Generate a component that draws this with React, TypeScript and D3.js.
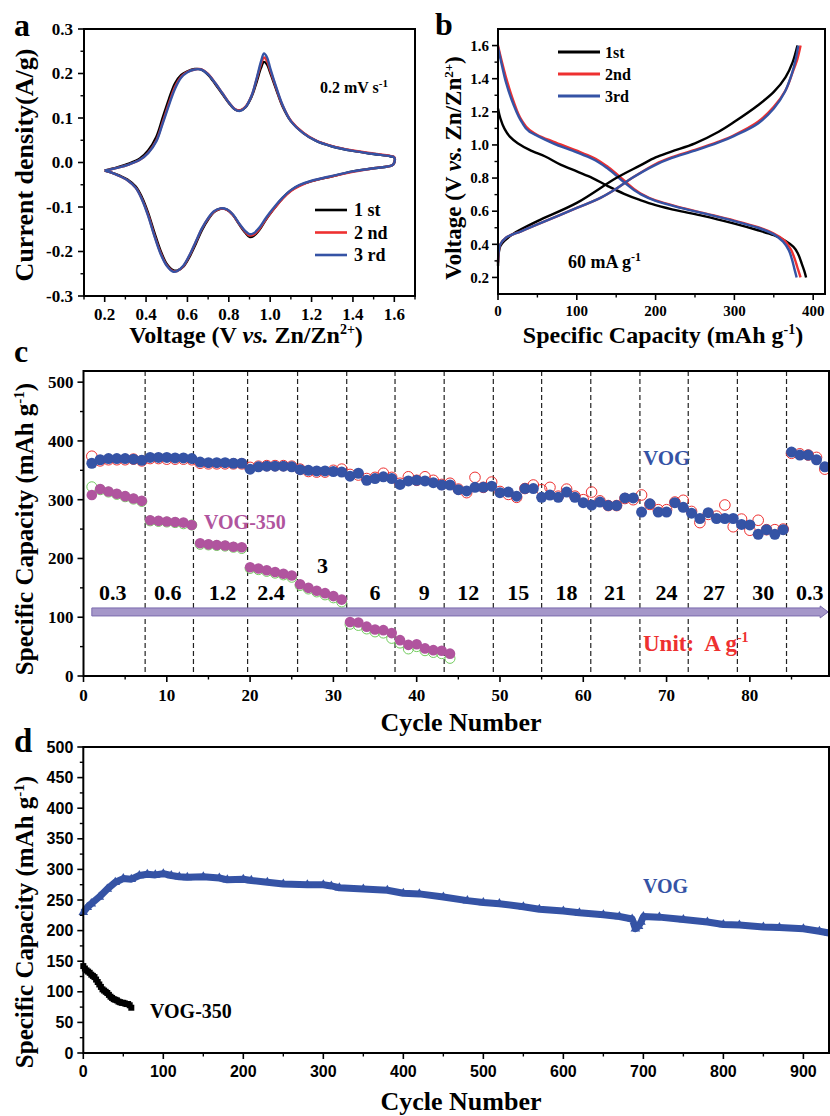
import React from 'react';
import * as d3 from 'd3';

const SERIF = '"Liberation Serif", "Times New Roman", Times, serif';
const SANS = '"Liberation Sans", Arial, Helvetica, sans-serif';
const BLUE = '#3553a5';
const RED = '#ee3030';
const MAGENTA = '#b0549e';
const GREEN = '#72cc5e';

// ---------- Panel a: CV curves (V, A/g) ----------
const cvLabels = ['1 st', '2 nd', '3 rd'];
const cvColors = ['#000000', RED, BLUE];
const cv1st: [number, number][] = [
  [0.2, -0.018], [0.26, -0.011], [0.32, -0.002], [0.37, 0.009], [0.41, 0.027], [0.45, 0.058], [0.48, 0.1],
  [0.51, 0.142], [0.54, 0.178], [0.57, 0.197], [0.6, 0.205], [0.635, 0.21], [0.665, 0.209], [0.7, 0.197],
  [0.735, 0.176], [0.77, 0.153], [0.8, 0.134], [0.83, 0.119], [0.855, 0.117], [0.88, 0.124], [0.91, 0.148],
  [0.935, 0.182], [0.955, 0.212], [0.97, 0.226], [0.985, 0.22], [1.0, 0.202], [1.03, 0.163], [1.06, 0.126],
  [1.1, 0.093], [1.16, 0.066], [1.22, 0.049], [1.3, 0.036], [1.4, 0.026], [1.5, 0.019], [1.58, 0.014], [1.6, 0.011],
  [1.6, 0.0], [1.59, -0.006], [1.5, -0.013], [1.4, -0.02], [1.3, -0.031], [1.2, -0.042], [1.14, -0.052],
  [1.1, -0.063], [1.06, -0.08], [1.02, -0.103], [0.98, -0.128], [0.95, -0.15], [0.92, -0.165], [0.9, -0.167],
  [0.88, -0.158], [0.85, -0.139], [0.82, -0.118], [0.79, -0.106], [0.76, -0.104], [0.73, -0.111], [0.7, -0.128],
  [0.67, -0.152], [0.64, -0.183], [0.61, -0.212], [0.58, -0.234], [0.55, -0.243], [0.53, -0.242], [0.5, -0.228],
  [0.47, -0.198], [0.44, -0.157], [0.41, -0.113], [0.38, -0.078], [0.35, -0.054], [0.31, -0.038], [0.27, -0.029],
  [0.23, -0.022], [0.2, -0.018],
];
const cv2nd: [number, number][] = [
  [0.2, -0.018], [0.26, -0.012], [0.32, -0.004], [0.37, 0.006], [0.41, 0.022], [0.45, 0.05], [0.48, 0.09],
  [0.51, 0.132], [0.54, 0.17], [0.57, 0.193], [0.6, 0.204], [0.635, 0.209], [0.665, 0.21], [0.7, 0.199],
  [0.735, 0.178], [0.77, 0.155], [0.8, 0.135], [0.83, 0.12], [0.855, 0.117], [0.88, 0.125], [0.91, 0.15],
  [0.935, 0.188], [0.955, 0.22], [0.97, 0.236], [0.985, 0.228], [1.0, 0.207], [1.03, 0.166], [1.06, 0.128],
  [1.1, 0.094], [1.16, 0.067], [1.22, 0.05], [1.3, 0.037], [1.4, 0.027], [1.5, 0.02], [1.58, 0.015], [1.6, 0.012],
  [1.6, 0.0], [1.59, -0.006], [1.5, -0.013], [1.4, -0.021], [1.3, -0.031], [1.2, -0.042], [1.14, -0.053],
  [1.1, -0.064], [1.06, -0.081], [1.02, -0.103], [0.98, -0.127], [0.95, -0.148], [0.92, -0.162], [0.9, -0.164],
  [0.88, -0.156], [0.85, -0.138], [0.82, -0.118], [0.79, -0.106], [0.76, -0.104], [0.73, -0.11], [0.7, -0.126],
  [0.67, -0.149], [0.64, -0.179], [0.61, -0.209], [0.58, -0.233], [0.55, -0.244], [0.53, -0.244], [0.5, -0.231],
  [0.47, -0.203], [0.44, -0.163], [0.41, -0.118], [0.38, -0.082], [0.35, -0.057], [0.31, -0.04], [0.27, -0.03],
  [0.23, -0.022], [0.2, -0.018],
];
const cv3rd: [number, number][] = [
  [0.2, -0.018], [0.26, -0.012], [0.32, -0.004], [0.37, 0.006], [0.41, 0.021], [0.45, 0.048], [0.48, 0.087],
  [0.51, 0.128], [0.54, 0.166], [0.57, 0.191], [0.6, 0.203], [0.635, 0.209], [0.665, 0.209], [0.7, 0.198],
  [0.735, 0.178], [0.77, 0.155], [0.8, 0.135], [0.83, 0.119], [0.855, 0.116], [0.88, 0.124], [0.91, 0.15],
  [0.935, 0.19], [0.955, 0.226], [0.97, 0.245], [0.985, 0.236], [1.0, 0.212], [1.03, 0.168], [1.06, 0.129],
  [1.1, 0.093], [1.16, 0.066], [1.22, 0.049], [1.3, 0.036], [1.4, 0.026], [1.5, 0.019], [1.58, 0.014], [1.6, 0.011],
  [1.6, 0.0], [1.59, -0.006], [1.5, -0.013], [1.4, -0.02], [1.3, -0.03], [1.2, -0.041], [1.14, -0.051],
  [1.1, -0.062], [1.06, -0.079], [1.02, -0.1], [0.98, -0.124], [0.95, -0.145], [0.92, -0.159], [0.9, -0.161],
  [0.88, -0.154], [0.85, -0.137], [0.82, -0.117], [0.79, -0.105], [0.76, -0.103], [0.73, -0.109], [0.7, -0.125],
  [0.67, -0.148], [0.64, -0.178], [0.61, -0.208], [0.58, -0.232], [0.55, -0.244], [0.53, -0.245], [0.5, -0.232],
  [0.47, -0.205], [0.44, -0.165], [0.41, -0.12], [0.38, -0.083], [0.35, -0.057], [0.31, -0.04], [0.27, -0.03],
  [0.23, -0.022], [0.2, -0.018],
];
const aXTicks = [0.2, 0.4, 0.6, 0.8, 1.0, 1.2, 1.4, 1.6];
const aXMinor = [0.1, 0.3, 0.5, 0.7, 0.9, 1.1, 1.3, 1.5, 1.7];
const aYTicks = [-0.3, -0.2, -0.1, 0.0, 0.1, 0.2, 0.3];
const aYMinor = [-0.25, -0.15, -0.05, 0.05, 0.15, 0.25];

// ---------- Panel b: GCD curves (mAh/g, V) ----------
const gcdLabels = ['1st', '2nd', '3rd'];
const gcdColors = ['#000000', RED, BLUE];
const dis1st: [number, number][] = [
  [0, 1.22], [3, 1.16], [8, 1.1], [15, 1.05], [25, 1.01], [40, 0.97], [60, 0.93], [80, 0.88], [100, 0.84],
  [120, 0.8], [140, 0.75], [160, 0.705], [180, 0.668], [200, 0.637], [230, 0.602], [260, 0.572], [300, 0.525],
  [330, 0.485], [350, 0.455], [365, 0.42], [375, 0.385], [381, 0.34], [385, 0.29], [389, 0.235], [391, 0.2],
];
const dis2nd: [number, number][] = [
  [0, 1.6], [5, 1.5], [10, 1.41], [20, 1.26], [30, 1.15], [40, 1.09], [50, 1.06], [70, 1.02], [100, 0.965],
  [120, 0.925], [140, 0.865], [160, 0.785], [180, 0.71], [200, 0.665], [230, 0.625], [260, 0.59], [300, 0.543],
  [330, 0.503], [350, 0.465], [363, 0.425], [371, 0.375], [376, 0.32], [380, 0.26], [384, 0.2],
];
const dis3rd: [number, number][] = [
  [0, 1.59], [5, 1.48], [10, 1.38], [20, 1.24], [30, 1.14], [40, 1.08], [50, 1.055], [70, 1.01], [100, 0.955],
  [120, 0.915], [140, 0.855], [160, 0.775], [180, 0.705], [200, 0.662], [230, 0.622], [260, 0.588], [300, 0.54],
  [330, 0.5], [350, 0.46], [362, 0.415], [369, 0.365], [373, 0.31], [376, 0.255], [379, 0.2],
];
const chg1st: [number, number][] = [
  [0, 0.27], [1, 0.35], [3, 0.39], [8, 0.42], [20, 0.465], [50, 0.54], [100, 0.65], [150, 0.8], [180, 0.875],
  [200, 0.925], [220, 0.96], [250, 1.01], [280, 1.08], [300, 1.14], [330, 1.24], [350, 1.32], [365, 1.41],
  [374, 1.5], [380, 1.6],
];
const chg2nd: [number, number][] = [
  [0, 0.29], [1, 0.36], [3, 0.4], [10, 0.44], [30, 0.48], [50, 0.52], [100, 0.62], [130, 0.68], [150, 0.735],
  [170, 0.8], [200, 0.885], [220, 0.925], [250, 0.97], [280, 1.02], [300, 1.06], [330, 1.14], [350, 1.23],
  [365, 1.33], [374, 1.44], [380, 1.52], [384, 1.6],
];
const chg3rd: [number, number][] = [
  [0, 0.29], [1, 0.36], [3, 0.4], [10, 0.44], [30, 0.48], [50, 0.52], [100, 0.62], [130, 0.68], [150, 0.735],
  [170, 0.8], [200, 0.88], [220, 0.92], [250, 0.965], [280, 1.015], [300, 1.055], [330, 1.13], [350, 1.22],
  [364, 1.32], [373, 1.43], [378, 1.52], [381, 1.6],
];
const bXTicks = [0, 100, 200, 300, 400];
const bXMinor = [50, 150, 250, 350];
const bYTicks = [0.2, 0.4, 0.6, 0.8, 1.0, 1.2, 1.4, 1.6];
const bYMinor = [0.3, 0.5, 0.7, 0.9, 1.1, 1.3, 1.5];

// ---------- Panel c: rate capability ----------
const vogCharge = [
  362, 368, 370, 370, 370, 369, 367,
  372, 372, 372, 371, 371, 370,
  364, 363, 363, 363, 362, 362,
  352, 356, 357, 357, 357, 356,
  351, 350, 349, 349, 348, 347,
  340, 345, 333, 336, 339, 336,
  326, 332, 333, 332, 329, 325,
  325, 317, 315, 321, 321, 323,
  312, 313, 306, 319, 319, 304,
  308, 304, 313, 304, 295,
  291, 296, 290, 290, 303, 303,
  279, 293, 279, 279, 295, 287,
  277, 268, 278, 268, 268, 268,
  258, 257, 241, 249, 241, 249,
  381, 376, 376, 368, 356,
];
const vogDischarge = [
  374, 366, 368, 368, 368, 369, 366,
  370, 370, 369, 369, 369, 368,
  362, 361, 361, 361, 361, 361,
  355, 357, 358, 358, 358, 357,
  352, 348, 347, 347, 350, 352,
  343, 342, 336, 338, 345, 338,
  328, 339, 333, 339, 333, 326,
  328, 318, 312, 338, 321, 330,
  314, 309, 304, 319, 325, 317,
  321, 306, 318, 306, 300,
  313, 298, 290, 290, 302, 300,
  308, 292, 283, 283, 296, 299,
  280, 261, 275, 272, 291, 254,
  267, 248, 265, 249, 249, 250,
  379, 378, 376, 372, 352,
];
const vog350Charge = [
  308, 318, 314, 310, 306, 302, 298,
  265, 264, 263, 262, 261, 257,
  226, 224, 223, 222, 220, 219,
  185, 183, 180, 177, 174, 171,
  156, 150, 145, 141, 136, 130,
  92, 91, 84, 79, 78, 73,
  61, 53, 54, 47, 44, 43,
  38,
];
const vog350Discharge = [
  322, 317, 313, 309, 305, 301, 297,
  264, 263, 262, 261, 259, 257,
  224, 223, 222, 221, 219, 217,
  183, 181, 178, 175, 172, 168,
  154, 148, 143, 138, 133, 126,
  88, 86, 80, 75, 73, 64,
  56, 46, 50, 43, 40, 38,
  30,
];
const rateBoundaries = [7.4, 13.2, 19.7, 25.7, 31.6, 37.4, 43.3, 49.2, 55.0, 60.9, 66.8, 72.6, 78.5, 84.4];
const rateLabels = ['0.3', '0.6', '1.2', '2.4', '3', '6', '9', '12', '15', '18', '21', '24', '27', '30', '0.3'];
const rateLabelCycles = [3.5, 10.1, 16.7, 22.5, 28.7, 35, 40.9, 46.2, 52.2, 58.0, 63.8, 70.0, 75.7, 81.6, 87.2];
const cXTicks = [0, 10, 20, 30, 40, 50, 60, 70, 80];
const cXMinor = [5, 15, 25, 35, 45, 55, 65, 75, 85];
const cYTicks = [0, 100, 200, 300, 400, 500];
const cYMinor = [50, 150, 250, 350, 450];

// ---------- Panel d: long cycling ----------
const vogLong: [number, number][] = [
  [0, 230], [5, 238], [10, 244], [20, 255], [30, 268], [40, 279], [50, 285], [60, 284], [70, 290], [80, 292],
  [90, 291], [100, 293], [110, 290], [120, 288], [130, 287], [150, 288], [170, 286], [180, 283], [200, 284],
  [210, 282], [230, 279], [250, 276], [280, 275], [300, 275], [310, 273], [320, 270], [350, 268], [380, 266],
  [400, 261], [420, 260], [450, 255], [480, 249], [500, 246], [520, 244], [550, 239], [570, 235], [600, 232],
  [620, 229], [650, 226], [670, 223], [686, 219], [690, 203], [694, 207], [697, 214], [700, 223], [720, 222],
  [750, 218], [780, 214], [800, 210], [820, 209], [850, 206], [870, 205], [900, 203], [920, 199], [932, 196],
];
const vog350Long = [
  142, 138, 135, 133, 131, 128, 126, 124, 120, 116, 112, 108, 104, 102, 100, 98,
  95, 92, 90, 88, 87, 86, 84, 83, 82, 82, 81, 80, 80, 78, 74,
];
const vog350LongCycles = d3.range(0, 61, 2);
const dXTicks = [0, 100, 200, 300, 400, 500, 600, 700, 800, 900];
const dXMinor = [50, 150, 250, 350, 450, 550, 650, 750, 850];
const dYTicks = [0, 50, 100, 150, 200, 250, 300, 350, 400, 450, 500];
const dYMinor = [25, 75, 125, 175, 225, 275, 325, 375, 425, 475];

type Sc = d3.ScaleLinear<number, number>;

function Frame(props: {
  x: Sc; y: Sc; xT: number[]; xM: number[]; yT: number[]; yM: number[];
  xFmt: (v: number) => string; yFmt: (v: number) => string; font: string; fs: number;
  xLabDy: number; yLabDx: number;
}) {
  const { x, y, xT, xM, yT, yM, xFmt, yFmt, font, fs, xLabDy, yLabDx } = props;
  const [x0, x1] = x.range();
  const [y0, y1] = y.range();
  return (
    <g>
      <rect x={x0} y={y1} width={x1 - x0} height={y0 - y1} fill="none" stroke="#000" strokeWidth={2} />
      {xT.map((v) => (
        <g key={'xt' + v}>
          <line x1={x(v)} x2={x(v)} y1={y0} y2={y0 + 6} stroke="#000" strokeWidth={1.6} />
          <text x={x(v)} y={y0 + xLabDy} textAnchor="middle" fontFamily={font} fontWeight="bold" fontSize={fs}>{xFmt(v)}</text>
        </g>
      ))}
      {xM.map((v) => (
        <line key={'xm' + v} x1={x(v)} x2={x(v)} y1={y0} y2={y0 + 3.5} stroke="#000" strokeWidth={1.4} />
      ))}
      {yT.map((v) => (
        <g key={'yt' + v}>
          <line x1={x0 - 6} x2={x0} y1={y(v)} y2={y(v)} stroke="#000" strokeWidth={1.6} />
          <text x={x0 - yLabDx} y={y(v)} dy="0.35em" textAnchor="end" fontFamily={font} fontWeight="bold" fontSize={fs}>{yFmt(v)}</text>
        </g>
      ))}
      {yM.map((v) => (
        <line key={'ym' + v} x1={x0 - 3.5} x2={x0} y1={y(v)} y2={y(v)} stroke="#000" strokeWidth={1.4} />
      ))}
    </g>
  );
}

export default function App() {
  const xA = d3.scaleLinear().domain([0.1, 1.7]).range([84, 415]);
  const yA = d3.scaleLinear().domain([-0.3, 0.3]).range([296, 29]);
  const xB = d3.scaleLinear().domain([0, 415]).range([498, 825]);
  const yB = d3.scaleLinear().domain([0.1, 1.7]).range([294, 29]);
  const xC = d3.scaleLinear().domain([0, 89.5]).range([83.5, 829]);
  const yC = d3.scaleLinear().domain([0, 519]).range([676, 371]);
  const xD = d3.scaleLinear().domain([0, 932]).range([83.3, 829]);
  const yD = d3.scaleLinear().domain([0, 500]).range([1053, 747]);

  const lineA = d3.line<[number, number]>().x((d) => xA(d[0])).y((d) => yA(d[1])).curve(d3.curveCatmullRom.alpha(0.5));
  const lineB = d3.line<[number, number]>().x((d) => xB(d[0])).y((d) => yB(d[1])).curve(d3.curveMonotoneY);
  const lineBc = d3.line<[number, number]>().x((d) => xB(d[0])).y((d) => yB(d[1])).curve(d3.curveCatmullRom.alpha(0.5));
  const lineD = d3.line<[number, number]>().x((d) => xD(d[0])).y((d) => yD(d[1])).curve(d3.curveLinear);
  const tri = d3.symbol().type(d3.symbolTriangle).size(40)() as string;

  const cvSets = [cv1st, cv2nd, cv3rd];
  const disSets = [dis1st, dis2nd, dis3rd];
  const chgSets = [chg1st, chg2nd, chg3rd];

  const fmt1 = (v: number) => v.toFixed(1);
  const fmt0 = (v: number) => String(v);

  const arrowY = yC(109);
  const arrowX0 = xC(1);
  const arrowX1 = xC(89.4);

  return (
    <svg width={830} height={1116} style={{ position: 'absolute', left: 0, top: 0, background: '#fff' }}
      xmlns="http://www.w3.org/2000/svg">
      <rect x={0} y={0} width={830} height={1116} fill="#fff" />

      {/* ================= Panel a ================= */}
      <text x={14} y={36} fontFamily={SERIF} fontWeight="bold" fontSize={32}>a</text>
      <g>
        {[0, 1, 2].map((i) => (
          <path key={'cv' + i} d={lineA(cvSets[i]) || ''} fill="none" stroke={cvColors[i]} strokeWidth={2.4} />
        ))}
      </g>
      <Frame x={xA} y={yA} xT={aXTicks} xM={aXMinor} yT={aYTicks} yM={aYMinor} xFmt={fmt1} yFmt={fmt1}
        font={SERIF} fs={17} xLabDy={24} yLabDx={11} />
      <text x={320} y={93} fontFamily={SERIF} fontWeight="bold" fontSize={16}>0.2 mV s<tspan dy={-6} fontSize={11}>-1</tspan></text>
      {cvLabels.map((l, i) => (
        <g key={'la' + l}>
          <line x1={315} x2={347} y1={210 + i * 22.5} y2={210 + i * 22.5} stroke={cvColors[i]} strokeWidth={2.6} />
          <text x={354} y={210 + i * 22.5} dy="0.35em" fontFamily={SERIF} fontWeight="bold" fontSize={18}>{l}</text>
        </g>
      ))}
      <text transform="translate(33,165) rotate(-90)" textAnchor="middle" fontFamily={SERIF} fontWeight="bold" fontSize={26}>Current density(A/g)</text>
      <text x={246} y={343} textAnchor="middle" fontFamily={SERIF} fontWeight="bold" fontSize={24}>
        Voltage (V <tspan fontStyle="italic">vs.</tspan> Zn/Zn<tspan dy={-9} fontSize={14}>2+</tspan><tspan dy={9}>)</tspan>
      </text>

      {/* ================= Panel b ================= */}
      <text x={435} y={35} fontFamily={SERIF} fontWeight="bold" fontSize={32}>b</text>
      <g>
        {[0, 1, 2].map((i) => (
          <path key={'dis' + i} d={lineB(disSets[i]) || ''} fill="none" stroke={gcdColors[i]} strokeWidth={2.4} />
        ))}
        {[0, 1, 2].map((i) => (
          <path key={'chg' + i} d={lineBc(chgSets[i]) || ''} fill="none" stroke={gcdColors[i]} strokeWidth={2.4} />
        ))}
      </g>
      <Frame x={xB} y={yB} xT={bXTicks} xM={bXMinor} yT={bYTicks} yM={bYMinor} xFmt={fmt0} yFmt={fmt1}
        font={SERIF} fs={15} xLabDy={22} yLabDx={9} />
      {gcdLabels.map((l, i) => (
        <g key={'lb' + l}>
          <line x1={558} x2={600} y1={52 + i * 22} y2={52 + i * 22} stroke={gcdColors[i]} strokeWidth={2.8} />
          <text x={605} y={52 + i * 22} dy="0.35em" fontFamily={SERIF} fontWeight="bold" fontSize={16}>{l}</text>
        </g>
      ))}
      <text x={568} y={268} fontFamily={SERIF} fontWeight="bold" fontSize={18}>60 mA g<tspan dy={-7} fontSize={12}>-1</tspan></text>
      <text transform="translate(461,168) rotate(-90)" textAnchor="middle" fontFamily={SERIF} fontWeight="bold" fontSize={23}>
        Voltage (V <tspan fontStyle="italic">vs.</tspan> Zn/Zn<tspan dy={-8} fontSize={13}>2+</tspan><tspan dy={8}>)</tspan>
      </text>
      <text x={663} y={343} textAnchor="middle" fontFamily={SERIF} fontWeight="bold" fontSize={24}>
        Specific Capacity (mAh g<tspan dy={-9} fontSize={14}>-1</tspan><tspan dy={9}>)</tspan>
      </text>

      {/* ================= Panel c ================= */}
      <text x={14} y={362} fontFamily={SERIF} fontWeight="bold" fontSize={32}>c</text>
      {rateBoundaries.map((b) => (
        <line key={'rb' + b} x1={xC(b)} x2={xC(b)} y1={yC.range()[1]} y2={yC.range()[0]} stroke="#222" strokeWidth={1.2} strokeDasharray="5,3" />
      ))}
      {rateLabels.map((l, i) => (
        <text key={'rl' + i} x={xC(rateLabelCycles[i])} y={i === 4 ? yC(176) : yC(129)} textAnchor="middle"
          fontFamily={SERIF} fontWeight="bold" fontSize={22}>{l}</text>
      ))}
      <path
        d={`M${arrowX0},${arrowY - 4}L${arrowX1 - 8},${arrowY - 4}L${arrowX1 - 8},${arrowY - 6}L${arrowX1},${arrowY}L${arrowX1 - 8},${arrowY + 6}L${arrowX1 - 8},${arrowY + 4}L${arrowX0},${arrowY + 4}Z`}
        fill="#a597c9" stroke="#7c6cae" strokeWidth={1} />
      <g>
        {vog350Discharge.map((v, i) => (
          <circle key={'gd' + i} cx={xC(i + 1)} cy={yC(v)} r={5} fill="none" stroke={GREEN} strokeWidth={1} />
        ))}
        {vog350Charge.map((v, i) => (
          <circle key={'mc' + i} cx={xC(i + 1)} cy={yC(v)} r={5.3} fill={MAGENTA} />
        ))}
        {vogDischarge.map((v, i) => (
          <circle key={'rd' + i} cx={xC(i + 1)} cy={yC(v)} r={5.3} fill="none" stroke={RED} strokeWidth={1} />
        ))}
        {vogCharge.map((v, i) => (
          <circle key={'bc' + i} cx={xC(i + 1)} cy={yC(v)} r={5.5} fill={BLUE} />
        ))}
      </g>
      <Frame x={xC} y={yC} xT={cXTicks} xM={cXMinor} yT={cYTicks} yM={cYMinor} xFmt={fmt0} yFmt={fmt0}
        font={SERIF} fs={17} xLabDy={25} yLabDx={10} />
      <text x={643} y={465} fontFamily={SERIF} fontWeight="bold" fontSize={21} fill={BLUE}>VOG</text>
      <text x={204} y={529} fontFamily={SERIF} fontWeight="bold" fontSize={20} fill={MAGENTA}>VOG-350</text>
      <text x={643} y={651} fontFamily={SERIF} fontWeight="bold" fontSize={23} fill={RED} style={{ whiteSpace: 'pre' }}>Unit:  A g<tspan dy={-9} fontSize={14}>-1</tspan></text>
      <text transform="translate(33,529) rotate(-90)" textAnchor="middle" fontFamily={SERIF} fontWeight="bold" fontSize={25}>
        Specific Capacity (mAh g<tspan dy={-9} fontSize={15}>-1</tspan><tspan dy={9}>)</tspan>
      </text>
      <text x={461} y={731} textAnchor="middle" fontFamily={SERIF} fontWeight="bold" fontSize={26}>Cycle Number</text>

      {/* ================= Panel d ================= */}
      <text x={14} y={752} fontFamily={SERIF} fontWeight="bold" fontSize={33}>d</text>
      <g>
        <path d={lineD(vogLong) || ''} fill="none" stroke={BLUE} strokeWidth={7} strokeLinejoin="round" />
        {vogLong.map((p, i) => (
          <path key={'tr' + i} d={tri} transform={`translate(${xD(p[0])},${yD(p[1])})`} fill={BLUE} />
        ))}
        {vog350Long.map((v, i) => (
          <rect key={'sq' + i} x={xD(vog350LongCycles[i]) - 3} y={yD(v) - 3} width={6} height={6} fill="#000" />
        ))}
        <path d={d3.line<number>().x((_, i) => xD(vog350LongCycles[i])).y((v) => yD(v))(vog350Long) || ''}
          fill="none" stroke="#000" strokeWidth={3} />
      </g>
      <Frame x={xD} y={yD} xT={dXTicks} xM={dXMinor} yT={dYTicks} yM={dYMinor} xFmt={fmt0} yFmt={fmt0}
        font={SANS} fs={16} xLabDy={24} yLabDx={10} />
      <text x={643} y={893} fontFamily={SERIF} fontWeight="bold" fontSize={20} fill={BLUE}>VOG</text>
      <text x={150} y={1018} fontFamily={SERIF} fontWeight="bold" fontSize={20} fill="#000">VOG-350</text>
      <text transform="translate(33,922) rotate(-90)" textAnchor="middle" fontFamily={SERIF} fontWeight="bold" fontSize={25}>
        Specific Capacity (mAh g<tspan dy={-9} fontSize={15}>-1</tspan><tspan dy={9}>)</tspan>
      </text>
      <text x={461} y={1110} textAnchor="middle" fontFamily={SERIF} fontWeight="bold" fontSize={26}>Cycle Number</text>
    </svg>
  );
}
